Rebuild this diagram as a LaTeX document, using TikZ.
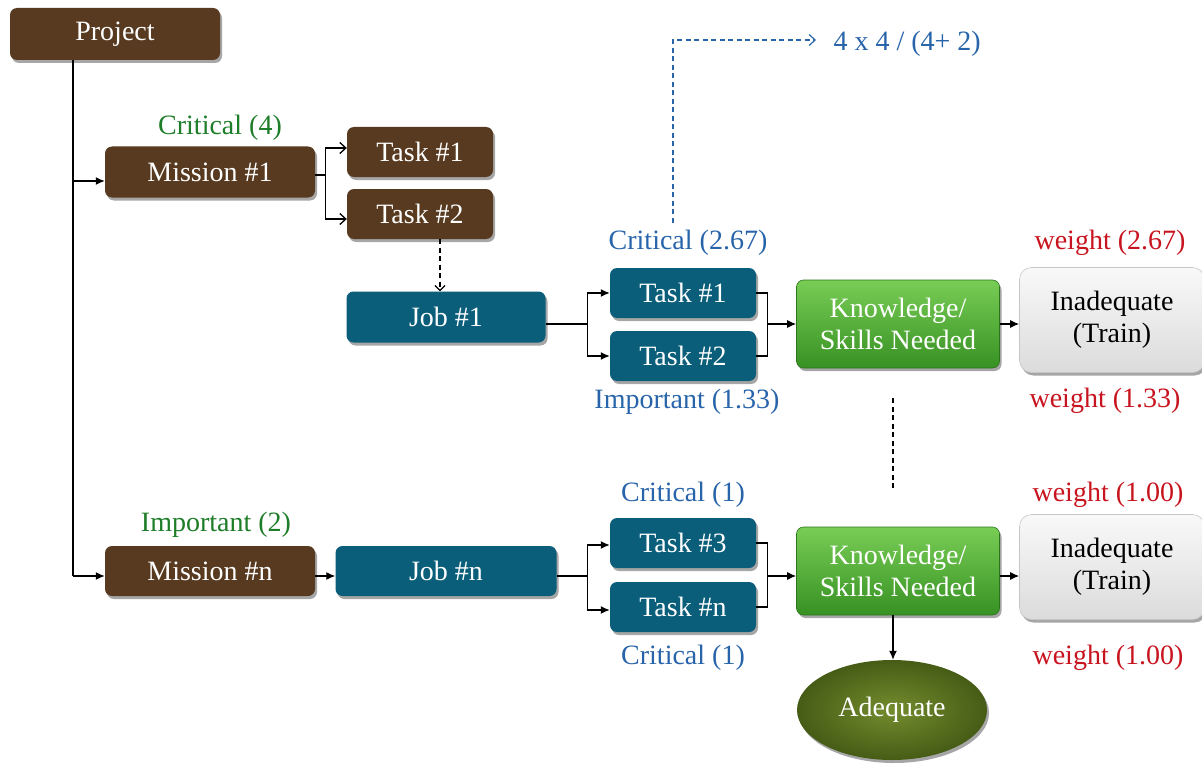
\documentclass[tikz,border=0pt]{standalone}
\usepackage{fontspec}
\setmainfont{Liberation Serif}
\usetikzlibrary{shadows,arrows.meta,shapes.geometric}
\definecolor{brownfill}{RGB}{87,58,31}
\definecolor{tealfill}{RGB}{10,94,122}
\definecolor{lgreen}{RGB}{120,205,85}
\definecolor{dgreen}{RGB}{55,145,35}
\definecolor{olivetop}{RGB}{115,140,45}
\definecolor{olivebot}{RGB}{70,92,22}
\definecolor{greentxt}{RGB}{30,125,40}
\definecolor{bluetxt}{RGB}{40,100,170}
\definecolor{redtxt}{RGB}{200,20,30}
\begin{document}
\begin{tikzpicture}[x=1pt,y=-1pt,
  font=\fontsize{28}{32}\selectfont,
  box/.style={rounded corners=7pt, text=white, align=center, inner sep=0pt,
    drop shadow={shadow xshift=2pt,shadow yshift=-3pt,opacity=0.35,fill=black}},
  brownbox/.style={box, fill=brownfill},
  tealbox/.style={box, fill=tealfill},
  greenbox/.style={box, top color=lgreen, bottom color=dgreen, draw=dgreen!80!black, line width=0.6pt,
    minimum width=203pt, minimum height=88pt},
  graybox/.style={box, text=black, top color=gray!5, bottom color=gray!28, draw=gray!45, line width=0.6pt,
    minimum width=185pt, minimum height=105pt, rounded corners=12pt},
  taskbox/.style={minimum width=146pt, minimum height=50pt},
  greenlbl/.style={text=greentxt},
  bluelbl/.style={text=bluetxt},
  redlbl/.style={text=redtxt},
  conn/.style={line width=1.3pt, black},
  arr/.style={conn, -{Latex[length=9pt,width=8pt]}},
  openarr/.style={conn, -{Straight Barb[length=6pt,width=11pt]}},
  dashline/.style={line width=1.2pt, dash pattern=on 5pt off 3.5pt}
]
\useasboundingbox (0,0) rectangle (1202,765);

% brown nodes
\node[brownbox, minimum width=210pt, minimum height=52pt] (project) at (115,34) {Project};
\node[brownbox, minimum width=210pt, minimum height=51pt] (mission1) at (210,172) {Mission \#1};
\node[brownbox, taskbox] (btask1) at (420,152) {Task \#1};
\node[brownbox, taskbox] (btask2) at (420,214) {Task \#2};
\node[brownbox, minimum width=210pt, minimum height=50pt] (missionn) at (210,571) {Mission \#n};

% teal nodes
\node[tealbox, minimum width=199pt, minimum height=51pt] (job1) at (446,317) {Job \#1};
\node[tealbox, taskbox] (t1) at (683,293) {Task \#1};
\node[tealbox, taskbox] (t2) at (683,356) {Task \#2};
\node[tealbox, minimum width=221pt, minimum height=50pt] (jobn) at (446,571) {Job \#n};
\node[tealbox, taskbox] (t3) at (683,543) {Task \#3};
\node[tealbox, taskbox] (tn) at (683,607) {Task \#n};

% knowledge / inadequate
\node[greenbox] (k1) at (898,324) {Knowledge/\\Skills Needed};
\node[greenbox] (k2) at (898,571) {Knowledge/\\Skills Needed};
\node[graybox] (in1) at (1112,320) {Inadequate\\(Train)};
\node[graybox] (in2) at (1112,567) {Inadequate\\(Train)};
\node[ellipse, minimum width=190pt, minimum height=100pt, inner sep=0pt, text=white,
  inner color=olivetop, outer color=olivebot,
  drop shadow={shadow xshift=2pt,shadow yshift=-3pt,opacity=0.35,fill=black}] (adequate) at (892,710) {Adequate};

% labels
\node[greenlbl] (lcrit4) at (220,128) {Critical (4)};
\node[greenlbl] (limp2) at (216,525) {Important (2)};
\node[bluelbl] (l267) at (688,243) {Critical (2.67)};
\node[bluelbl] (l133) at (687,402) {Important (1.33)};
\node[bluelbl] (l1a) at (683,495) {Critical (1)};
\node[bluelbl] (l1b) at (683,658) {Critical (1)};
\node[redlbl] (w267) at (1110,243) {weight (2.67)};
\node[redlbl] (w133) at (1105,401) {weight (1.33)};
\node[redlbl] (w100a) at (1108,495) {weight (1.00)};
\node[redlbl] (w100b) at (1108,658) {weight (1.00)};
\node[bluelbl, anchor=west] (formula) at (830,44) {4 x 4 / (4+ 2)};

% helper coordinates (shifted anchors)
\coordinate (m1in) at ([shift={(0,9)}]mission1.west);
\coordinate (bt1in) at ([shift={(0,-4)}]btask1.west);
\coordinate (bt2in) at ([shift={(0,5)}]btask2.west);
\coordinate (bt2out) at ([shift={(20,0)}]btask2.south);
\coordinate (t2bus) at ([shift={(11,0)}]t2.east);
\coordinate (tnbus) at ([shift={(11,0)}]tn.east);
\coordinate (k2in) at ([shift={(0,5)}]k2.west);
\coordinate (k2out) at ([shift={(0,5)}]k2.east);
\coordinate (k2down) at ([shift={(-5,0)}]k2.south);
\coordinate (t3in) at ([shift={(0,2)}]t3.west);
\coordinate (tnin) at ([shift={(0,3)}]tn.west);
\coordinate (mnout) at ([shift={(0,5)}]missionn.east);
\coordinate (fstart) at ([shift={(-15,-4)}]l267.north);
\coordinate (fend) at ([shift={(-14,-4)}]formula.west);

% trunk from project
\coordinate (trunk) at (73,576);
\draw[conn] (project.south -| trunk) -- (trunk);
\draw[arr] (trunk |- m1in) -- (m1in);
\draw[arr] (trunk) -- (trunk -| missionn.west);

% mission 1 -> brown tasks
\draw[conn] ([shift={(0,3)}]mission1.east) -- ++(10,0) coordinate (mb);
\draw[conn] (mb |- bt1in) -- (mb |- bt2in);
\draw[openarr] (mb |- bt1in) -- (bt1in);
\draw[openarr] (mb |- bt2in) -- (bt2in);

% task 2 -> job 1 (dashed)
\draw[dashline, -{Straight Barb[length=5pt,width=10pt]}] (bt2out) -- (bt2out |- job1.north);

% job 1 -> tasks
\draw[conn] ([shift={(0,7)}]job1.east) -- ++(42,0) coordinate (jb1);
\draw[arr] (jb1) |- (t1.west);
\draw[arr] (jb1) |- (t2.west);

% tasks -> knowledge 1
\draw[conn] (t1.east) -| (t2bus) -- (t2.east);
\draw[arr] (t2bus |- k1.west) -- (k1.west);
\draw[arr] (k1.east) -- (k1.east -| in1.west);

% formula (dashed blue)
\draw[dashline, bluetxt, -{Straight Barb[length=6pt,width=11pt]}] (fstart) |- (fend);

% vertical dashed between knowledge boxes
\draw[dashline] ([shift={(-5,30)}]k1.south) -- ([shift={(-5,-37)}]k2.north);

% mission n -> job n
\draw[arr] (mnout) -- (mnout -| jobn.west);

% job n -> tasks
\draw[conn] ([shift={(0,5)}]jobn.east) -- ++(31,0) coordinate (jbn);
\draw[arr] (jbn) |- (t3in);
\draw[arr] (jbn) |- (tnin);

% tasks -> knowledge 2
\draw[conn] (t3.east) -| (tnbus) -- (tn.east);
\draw[arr] (tnbus |- k2in) -- (k2in);
\draw[arr] (k2out) -- (k2out -| in2.west);

% knowledge 2 -> adequate
\draw[arr] (k2down) -- (k2down |- adequate.north);
\end{tikzpicture}
\end{document}
